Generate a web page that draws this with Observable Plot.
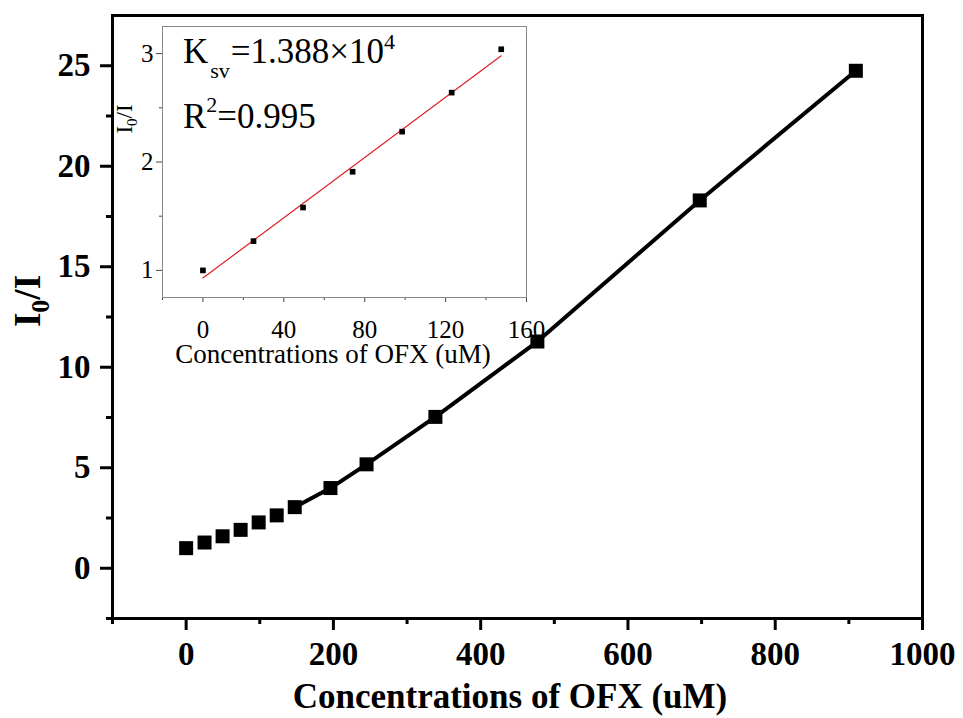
<!DOCTYPE html>
<html><head><meta charset="utf-8">
<script src="https://cdn.jsdelivr.net/npm/d3@7"></script>
<script src="https://cdn.jsdelivr.net/npm/@observablehq/plot@0.6"></script>
<style>
body{margin:0;background:#fff;}
#wrap{position:relative;width:963px;height:718px;}
#wrap svg{position:absolute;left:0;top:0;}
</style></head><body><div id="wrap"></div>
<script>
// Main series
const conc = [0, 25, 49.5, 74, 98.5, 123, 147.5, 196, 245, 338.5, 477, 697.5, 909.5];
const ratio = [1.0, 1.28, 1.59, 1.91, 2.28, 2.63, 3.04, 3.99, 5.17, 7.53, 11.28, 18.3, 24.75];
const lineStartIndex = 6;
// Inset series
const insetConc = [0, 25, 49.5, 74, 98.5, 123, 147.5];
const insetRatio = [1.0, 1.27, 1.58, 1.91, 2.28, 2.64, 3.04];
const fitConc = [0, 147.5];
const fitRatio = [0.93, 2.98];
// Ticks
const xTicks = [0, 200, 400, 600, 800, 1000];
const xMinor = [-100, 100, 300, 500, 700, 900];
const yTicks = [0, 5, 10, 15, 20, 25];
const yMinor = [-2.5, 2.5, 7.5, 12.5, 17.5, 22.5];
const ixTicks = [0, 40, 80, 120, 160];
const ixMinor = [-20, 20, 60, 100, 140];
const iyTicks = [1, 2, 3];
const iyMinor = [1.5, 2.5];

const W = 963, H = 718;
const pts = conc.map((c, i) => ({x: c, y: ratio[i]}));
const linePts = pts.slice(lineStartIndex);
const ipts = insetConc.map((c, i) => ({x: c, y: insetRatio[i]}));
const fit = fitConc.map((c, i) => ({x: c, y: fitRatio[i]}));
const plain = d => String(d);

const main = Plot.plot({
  width: W, height: H,
  marginTop: 15, marginRight: 41, marginBottom: 100, marginLeft: 112,
  style: {fontFamily: "Liberation Serif", background: "transparent"},
  x: {domain: [-100, 1000]},
  y: {domain: [-2.5, 27.5]},
  marks: [
    Plot.axisX(xMinor, {tickSize: 6, strokeWidth: 3, tickFormat: () => "", label: null}),
    Plot.axisX(xTicks, {tickSize: 12, tickPadding: 11, strokeWidth: 3, fontSize: 33, fontWeight: "bold", tickFormat: plain, label: null}),
    Plot.axisY(yMinor, {tickSize: 6, strokeWidth: 3, tickFormat: () => "", label: null}),
    Plot.axisY(yTicks, {tickSize: 12, tickPadding: 10, strokeWidth: 3, fontSize: 33, fontWeight: "bold", tickFormat: plain, label: null}),
    Plot.line(linePts, {x: "x", y: "y", stroke: "black", strokeWidth: 4}),
    Plot.dot(pts, {x: "x", y: "y", symbol: "square", r: 7.9, fill: "black"}),
    Plot.frame({stroke: "black", strokeWidth: 3})
  ]
});

const inset = Plot.plot({
  width: W, height: H,
  marginTop: 26, marginRight: 437, marginBottom: 421, marginLeft: 162,
  style: {fontFamily: "Liberation Serif", background: "transparent"},
  x: {domain: [-20, 160]},
  y: {domain: [0.75, 3.25]},
  marks: [
    Plot.axisX(ixMinor, {tickSize: 3, stroke: "#444", tickFormat: () => "", label: null}),
    Plot.axisX(ixTicks, {tickSize: 5, tickPadding: 18, stroke: "#444", fontSize: 25, tickFormat: plain, label: null}),
    Plot.axisY(iyMinor, {tickSize: 3, stroke: "#444", tickFormat: () => "", label: null}),
    Plot.axisY(iyTicks, {tickSize: 6, tickPadding: 3, stroke: "#444", fontSize: 25, tickFormat: plain, label: null}),
    Plot.line(fit, {x: "x", y: "y", stroke: "#e02020", strokeWidth: 1.2}),
    Plot.dot(ipts, {x: "x", y: "y", symbol: "square", r: 3.2, fill: "black"}),
    Plot.frame({stroke: "#888", strokeWidth: 1})
  ]
});

const wrap = document.getElementById("wrap");
wrap.appendChild(main);
wrap.appendChild(inset);

// Titles
const ms = d3.select(main);
ms.append("text").attr("x", 510).attr("y", 708).attr("text-anchor", "middle")
  .attr("font-size", 35).attr("font-weight", "bold").attr("fill", "black")
  .text("Concentrations of OFX (uM)");
const yt = ms.append("text").attr("transform", "translate(40,301) rotate(-90)")
  .attr("text-anchor", "middle").attr("font-size", 37).attr("font-weight", "bold").attr("fill", "black");
yt.append("tspan").text("I");
yt.append("tspan").attr("dy", 9).attr("font-size", 26).text("0");
yt.append("tspan").attr("dy", -9).text("/I");

const is = d3.select(inset);
is.append("text").attr("x", 333).attr("y", 363).attr("text-anchor", "middle")
  .attr("font-size", 27).attr("fill", "black").text("Concentrations of OFX (uM)");
const iyt = is.append("text").attr("transform", "translate(132,119) rotate(-90)")
  .attr("text-anchor", "middle").attr("font-size", 23).attr("fill", "black");
iyt.append("tspan").text("I");
iyt.append("tspan").attr("dy", 5).attr("font-size", 15).text("0");
iyt.append("tspan").attr("dy", -5).text("/I");

const k = is.append("text").attr("x", 183).attr("y", 63).attr("text-anchor", "start")
  .attr("font-size", 35).attr("fill", "black");
k.append("tspan").text("K");
k.append("tspan").attr("dy", 15).attr("dx", 2).attr("font-size", 22).text("sv");
k.append("tspan").attr("dy", -15).attr("dx", 1).text("=1.388×10");
k.append("tspan").attr("dy", -14).attr("font-size", 22).text("4");

const r = is.append("text").attr("x", 183).attr("y", 128).attr("text-anchor", "start")
  .attr("font-size", 35).attr("fill", "black");
r.append("tspan").text("R");
r.append("tspan").attr("dy", -16).attr("font-size", 22).text("2");
r.append("tspan").attr("dy", 16).text("=0.995");
</script></body></html>
